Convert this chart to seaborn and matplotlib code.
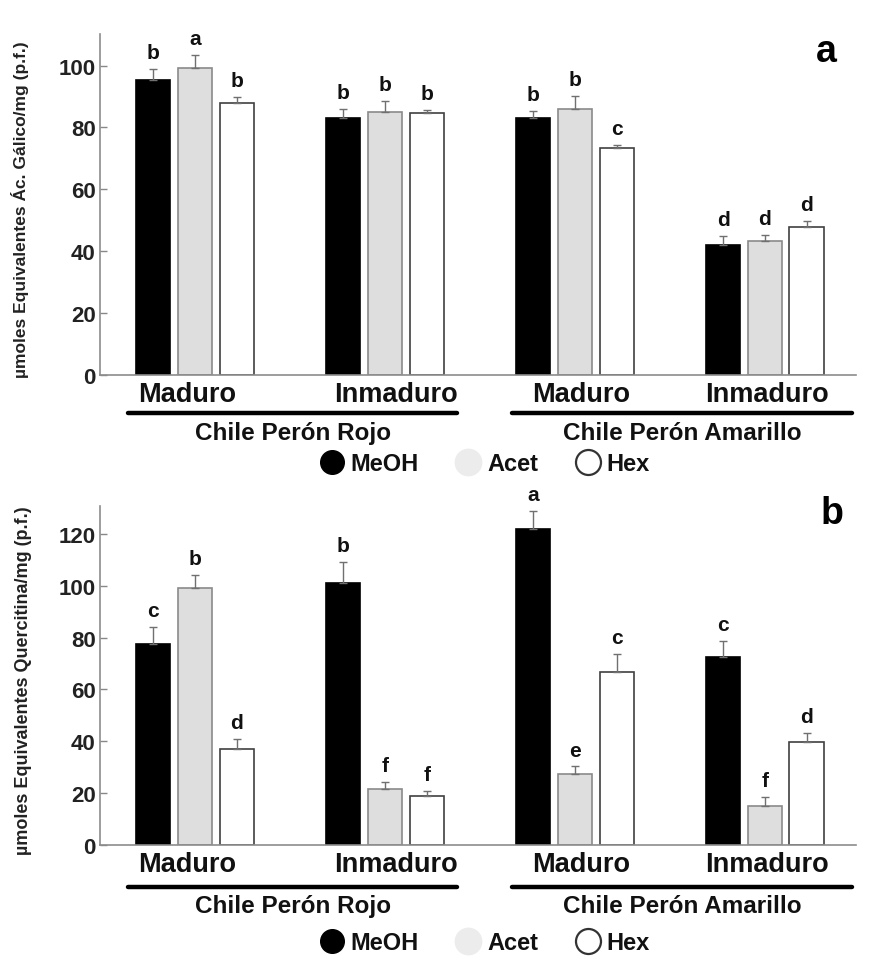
import numpy as np
import pandas as pd
import seaborn as sns
import matplotlib
matplotlib.use("Agg")
import matplotlib.pyplot as plt
from matplotlib import transforms
from matplotlib.lines import Line2D

# ---- data -------------------------------------------------------------
grupos = ["Rojo-Maduro", "Rojo-Inmaduro", "Amarillo-Maduro", "Amarillo-Inmaduro"]
etiquetas_x = ["Maduro", "Inmaduro", "Maduro", "Inmaduro"]
variedades = ["Chile Perón Rojo", "Chile Perón Amarillo"]
solventes = ["MeOH", "Acet", "Hex"]

# Fenoles totales (µmol eq. ácido gálico / mg p.f.)
fen_meoh = [95.3, 83.0, 83.2, 41.9]
fen_acet = [99.3, 85.0, 86.1, 43.4]
fen_hex = [88.0, 84.6, 73.3, 47.9]
fen_err_meoh = [3.6, 3.0, 2.0, 3.0]
fen_err_acet = [4.0, 3.5, 4.0, 2.0]
fen_err_hex = [2.0, 1.0, 1.0, 2.0]
fen_letras_meoh = ["b", "b", "b", "d"]
fen_letras_acet = ["a", "b", "b", "d"]
fen_letras_hex = ["b", "b", "c", "d"]

# Flavonoides (µmol eq. quercitina / mg p.f.)
fla_meoh = [77.4, 101.2, 121.9, 72.7]
fla_acet = [99.2, 21.7, 27.3, 14.9]
fla_hex = [37.0, 19.0, 66.6, 39.9]
fla_err_meoh = [6.7, 8.0, 7.0, 6.0]
fla_err_acet = [5.0, 2.5, 3.0, 3.5]
fla_err_hex = [4.0, 2.0, 7.0, 3.5]
fla_letras_meoh = ["c", "b", "a", "c"]
fla_letras_acet = ["b", "f", "e", "f"]
fla_letras_hex = ["d", "f", "c", "d"]

colores = {"MeOH": "#000000", "Acet": "#dedede", "Hex": "#ffffff"}
bordes = {"MeOH": "#000000", "Acet": "#8a8a8a", "Hex": "#404040"}

FONT = ["Liberation Sans", "DejaVu Sans"]

# label centres (category units) and underline extents for the two varieties
pos_etiquetas = [-0.04, 1.056, 2.035, 3.01]
tramos = [(-0.35, 1.38), (1.67, 3.46)]


def tabla(meoh, acet, hexa, e_meoh, e_acet, e_hex, l_meoh, l_acet, l_hex):
    filas = []
    for s, vals, errs, lets in (("MeOH", meoh, e_meoh, l_meoh),
                                ("Acet", acet, e_acet, l_acet),
                                ("Hex", hexa, e_hex, l_hex)):
        for g, v, e, l in zip(grupos, vals, errs, lets):
            filas.append({"grupo": g, "solvente": s, "valor": v, "err": e, "letra": l})
    return pd.DataFrame(filas)


df_a = tabla(fen_meoh, fen_acet, fen_hex, fen_err_meoh, fen_err_acet, fen_err_hex,
             fen_letras_meoh, fen_letras_acet, fen_letras_hex)
df_b = tabla(fla_meoh, fla_acet, fla_hex, fla_err_meoh, fla_err_acet, fla_err_hex,
             fla_letras_meoh, fla_letras_acet, fla_letras_hex)

sns.set_theme(style="white")
plt.rcParams["font.family"] = FONT
plt.rcParams["font.weight"] = "bold"

W, H = 874, 962
fig = plt.figure(figsize=(W / 100, H / 100), dpi=100)


def fy(px):
    return 1 - px / H


def panel(df, top, bottom, ymax, yticks, ylabel, ylabel_x, ylabel_size, letra,
          lbl_y, line_y, name_y, leg_y, letra_xy):
    ax = fig.add_axes([100 / W, fy(bottom), (856 - 100) / W, (bottom - top) / H])
    sns.barplot(data=df, x="grupo", y="valor", hue="solvente", order=grupos,
                hue_order=solventes, palette=colores, width=0.66, gap=0.18,
                errorbar=None, legend=False, ax=ax, saturation=1)
    for s, cont in zip(solventes, ax.containers):
        sub = df[df.solvente == s].set_index("grupo").loc[grupos]
        xs, hs = [], []
        for bar in cont:
            bar.set_facecolor(colores[s])
            bar.set_edgecolor(bordes[s])
            bar.set_linewidth(1.2)
            xs.append(bar.get_x() + bar.get_width() / 2)
            hs.append(bar.get_height())
        xs = np.array(xs)
        hs = np.array(hs)
        errs = sub["err"].to_numpy()
        ax.errorbar(xs, hs, yerr=[np.zeros_like(errs), errs], fmt="none",
                    ecolor="#707070", elinewidth=1.0, capsize=3, capthick=1.0,
                    zorder=1)
        for x, h, e, l in zip(xs, hs, errs, sub["letra"]):
            ax.annotate(l, (x, h + e), xytext=(0, 5), textcoords="offset points",
                        ha="center", va="bottom", fontsize=15, fontweight="bold",
                        color="#111111")

    ax.set_xlim(-0.5, 3.48)
    ax.set_ylim(0, ymax)
    ax.set_yticks(yticks)
    ax.set_yticklabels([str(t) for t in yticks], fontsize=16, fontweight="bold",
                       color="#222222")
    ax.tick_params(axis="y", direction="in", length=5, width=1, color="#888888", pad=3,
                   left=True)
    ax.set_xticks(range(4))
    ax.set_xticklabels([])
    ax.tick_params(axis="x", length=0)
    ax.set_xlabel("")
    ax.set_ylabel("")
    for sp in ("top", "right"):
        ax.spines[sp].set_visible(False)
    for sp in ("left", "bottom"):
        ax.spines[sp].set_color("#8c8c8c")
        ax.spines[sp].set_linewidth(1.2)
    ax.grid(False)

    tr = transforms.blended_transform_factory(ax.transData, fig.transFigure)
    # ripeness labels under each group
    for xp, t in zip(pos_etiquetas, etiquetas_x):
        ax.text(xp, fy(lbl_y), t, transform=tr, ha="center", va="center",
                fontsize=19.5, fontweight="bold", color="#111111")
    # variety underline and name
    for (x0, x1), nombre in zip(tramos, variedades):
        ax.add_line(Line2D([x0, x1], [fy(line_y), fy(line_y)], transform=tr,
                           color="#000000", linewidth=3.2, clip_on=False))
        ax.text((x0 + x1) / 2, fy(name_y), nombre, transform=tr, ha="center",
                va="center", fontsize=17.5, fontweight="bold", color="#111111")

    fig.text(ylabel_x / W, fy((top + bottom) / 2 + 4), ylabel, rotation=90,
             ha="center", va="center", fontsize=ylabel_size, fontweight="bold",
             color="#222222")
    fig.text(letra_xy[0] / W, fy(letra_xy[1]), letra, ha="center", va="center",
             fontsize=27, fontweight="bold", color="#000000")

    handles = [
        Line2D([], [], linestyle="none", marker="o", markersize=17,
               markerfacecolor="#000000", markeredgecolor="#000000"),
        Line2D([], [], linestyle="none", marker="o", markersize=19,
               markerfacecolor="#ececec", markeredgecolor="#ececec"),
        Line2D([], [], linestyle="none", marker="o", markersize=18,
               markerfacecolor="#ffffff", markeredgecolor="#333333",
               markeredgewidth=1.6),
    ]
    leg = fig.legend(handles, solventes, loc="center", ncol=3,
                     bbox_to_anchor=(485 / W, fy(leg_y)), frameon=False,
                     handletextpad=0.3, columnspacing=1.6, handlelength=1.0,
                     prop={"family": FONT, "weight": "bold", "size": 17})
    for t in leg.get_texts():
        t.set_color("#111111")
    return ax


panel(df_a, 35, 376, 110.2, [0, 20, 40, 60, 80, 100],
      "µmoles Equivalentes Ác. Gálico/mg (p.f.)", 20, 12.5, "a",
      lbl_y=395, line_y=414, name_y=434, leg_y=465, letra_xy=(826, 52))
panel(df_b, 507, 846, 130.8, [0, 20, 40, 60, 80, 100, 120],
      "µmoles Equivalentes Quercitina/mg (p.f.)", 24, 13, "b",
      lbl_y=865, line_y=888, name_y=907, leg_y=944, letra_xy=(832, 514))

fig.savefig("out.png", dpi=100, facecolor="white")
